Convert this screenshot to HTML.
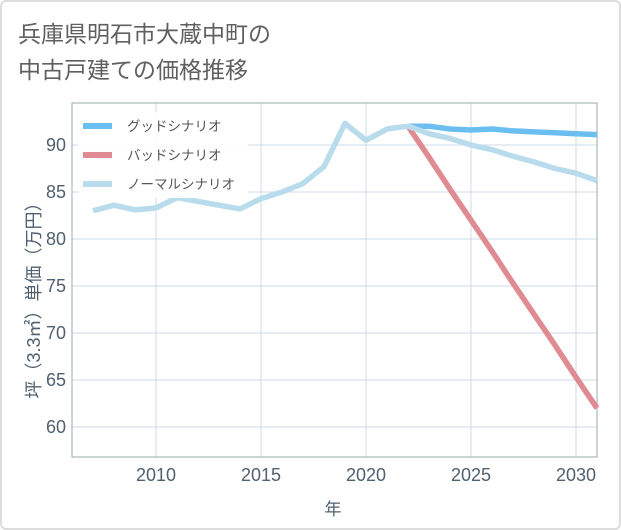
<!DOCTYPE html>
<html><head><meta charset="utf-8"><style>
body{margin:0;background:#fff;font-family:"Liberation Sans","Noto Sans CJK JP",sans-serif;}
#card{position:absolute;left:0;top:0;width:617px;height:526px;border:2px solid #ddd;border-radius:6px;background:#fff;}
</style></head><body>
<div id="card"></div>
<svg id="chart" width="621" height="530" style="position:absolute;left:0;top:0">
<text x="18" y="42" font-size="23" fill="#606060">兵庫県明石市大蔵中町の</text>
<text x="18" y="78" font-size="23" fill="#606060">中古戸建ての価格推移</text>
<g id="grid"></g>
<rect x="72" y="103" width="525" height="354" fill="none" stroke="#9aa" stroke-width="1"/>
<g id="series"></g>
<g id="legend"></g>
<text x="333" y="515" font-size="17" fill="#506070" text-anchor="middle">年</text>
<text transform="translate(40,296) rotate(-90)" font-size="18" fill="#506070" text-anchor="middle">坪（3.3㎡）単価（万円）</text>
</svg>
<script>
const years=[2007,2008,2009,2010,2011,2012,2013,2014,2015,2016,2017,2018,2019,2020,2021,2022,2023,2024,2025,2026,2027,2028,2029,2030,2031];
const normal=[83.0,83.6,83.1,83.3,84.4,84.0,83.6,83.2,84.3,85.0,85.9,87.7,92.3,90.5,91.7,92.0,91.2,90.7,90.0,89.5,88.8,88.2,87.5,87.0,86.2];
const goodYears=[2022,2023,2024,2025,2026,2027,2028,2029,2030,2031];
const good=[92.0,92.0,91.7,91.6,91.7,91.5,91.4,91.3,91.2,91.1];
const bad=[92.0,88.7,85.3,82.0,78.7,75.3,72.0,68.7,65.3,62.0];
const xTicks=[2010,2015,2020,2025,2030];
const yTicks=[60,65,70,75,80,85,90];
const X=y=>156+(y-2010)*21;
const Y=v=>145+(90-v)*9.4;
const NS="http://www.w3.org/2000/svg";
const grid=document.getElementById('grid'),ser=document.getElementById('series'),leg=document.getElementById('legend');
function mk(tag,attrs,parent){const e=document.createElementNS(NS,tag);for(const k in attrs)e.setAttribute(k,attrs[k]);parent.appendChild(e);return e;}
xTicks.forEach(t=>{
 const l=mk('line',{x1:X(t),x2:X(t),y1:103,y2:457,stroke:'#cfdbe6'},grid);
 
 
 const tx=mk('text',{x:X(t),y:481,'font-size':18,fill:'#506070','text-anchor':'middle'},grid);tx.textContent=t;
 
 
});
yTicks.forEach(t=>{
 const l=mk('line',{x1:72,x2:597,y1:Y(t),y2:Y(t),stroke:'#cfdbe6'},grid);
 
 
 const tx=mk('text',{x:66,y:Y(t)+6,'font-size':18,fill:'#506070','text-anchor':'end'},grid);tx.textContent=t;
 
 
});
function line(xs,vs,color,name){
 const p=mk('polyline',{points:xs.map((y,i)=>X(y)+','+Y(vs[i])).join(' '),fill:'none',stroke:color,'stroke-width':5.5,'stroke-linejoin':'round'},ser);
 
 
}
line(goodYears,bad,'#e08a92','bad-scenario-line');
line(goodYears,good,'#6bbff0','good-scenario-line');
line(years,normal,'#b9dcec','normal-scenario-line');
mk('rect',{x:78,y:112,width:170,height:86,fill:'#fff',opacity:0.9},leg);
[['グッドシナリオ','#6bbff0'],['バッドシナリオ','#e08a92'],['ノーマルシナリオ','#b9dcec']].forEach((d,i)=>{
 const y=126+i*29;
 const r=mk('rect',{x:83,y:y-3,width:29,height:6,fill:d[1]},leg);
 
 
 const t=mk('text',{x:127,y:y+5,'font-size':13.5,fill:'#555'},leg);t.textContent=d[0];
 
 
});
</script>
</body></html>
